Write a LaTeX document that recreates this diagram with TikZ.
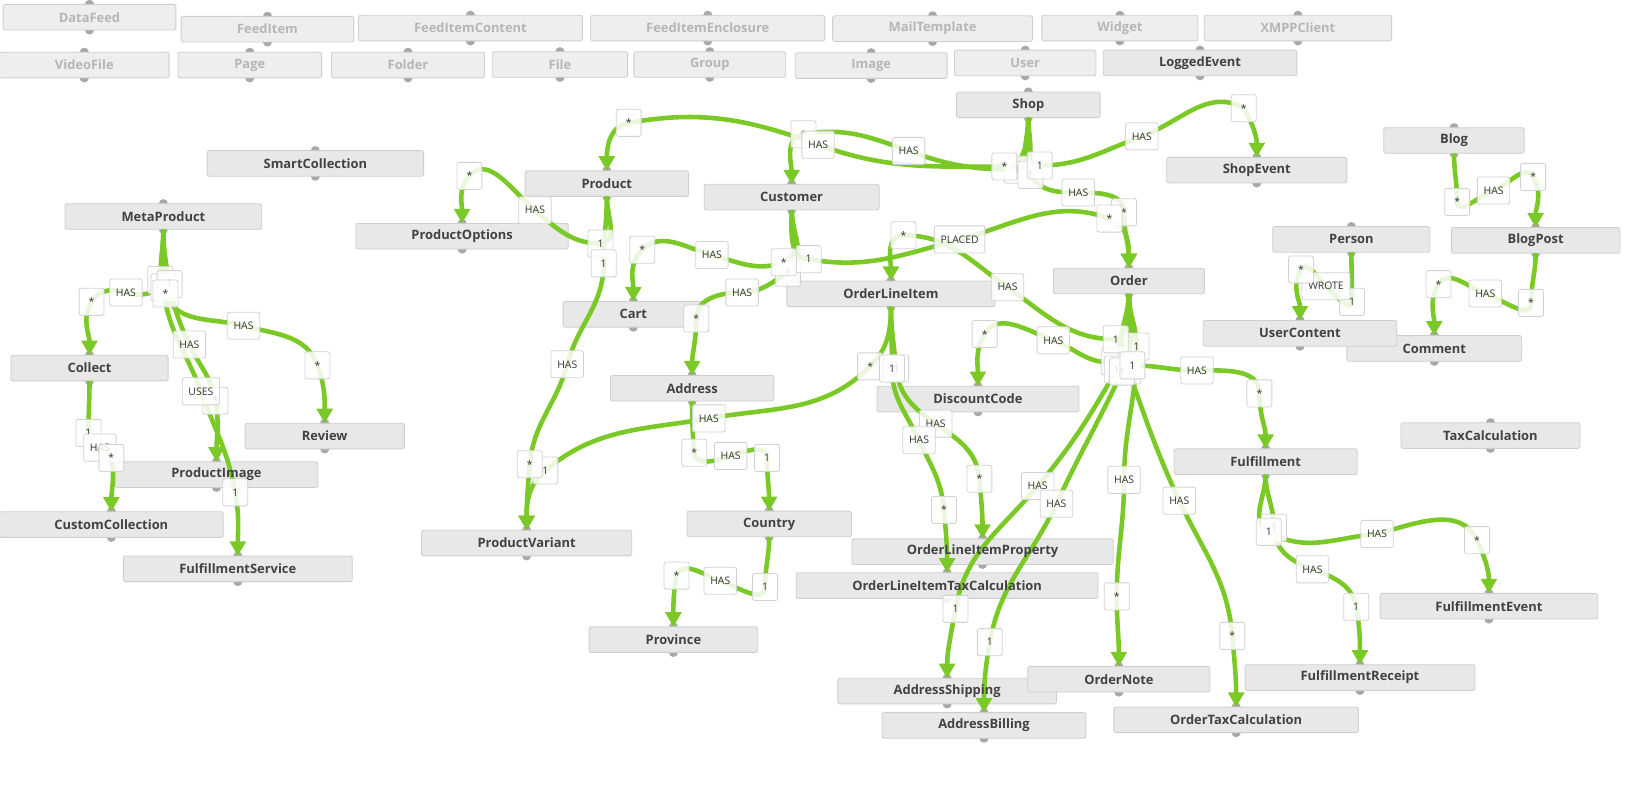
\documentclass[tikz,border=0pt]{standalone}
\usepackage{fontspec}
\setmainfont{Open Sans}
\usetikzlibrary{arrows.meta}
\pgfdeclarelayer{dots}
\pgfdeclarelayer{boxes}
\pgfdeclarelayer{front}
\pgfsetlayers{dots,boxes,main,front}
\definecolor{relgreen}{RGB}{122,201,38}
\definecolor{boxfill}{RGB}{232,232,232}
\definecolor{ghostfill}{RGB}{238,238,238}
\definecolor{boxline}{RGB}{206,206,206}
\definecolor{enttext}{RGB}{66,66,66}
\definecolor{ghosttext}{RGB}{182,182,182}
\definecolor{pingray}{RGB}{168,168,168}
\definecolor{tagline}{RGB}{210,210,210}
\definecolor{tagtext}{RGB}{51,51,51}

\begin{document}
\begin{tikzpicture}[x=0.5pt,y=0.5pt,
  ent/.style={minimum height=12.3pt,inner sep=0pt,outer sep=0pt,font=\bfseries\fontsize{6.2}{7}\selectfont,text=enttext},
  ghost/.style={ent,text=ghosttext},
  entbox/.style={draw=boxline,fill=boxfill,rounded corners=1pt},
  ghostbox/.style={entbox,fill=ghostfill},
  rel/.style={draw=relgreen,line width=2.2pt,-{Triangle[length=7pt,width=7.5pt]}},
  tag/.style={draw=tagline,fill=white,fill opacity=0.85,text opacity=1,rounded corners=1pt,minimum width=12pt,minimum height=13pt,inner xsep=3pt,inner ysep=1pt,font=\fontsize{5}{6}\selectfont,text=tagtext}]
\useasboundingbox (0,0) rectangle (1568,-770);

\foreach \n/\x/\y/\w/\t in %
{datafeed/86/16.5/166/DataFeed, feeditem/257/28/166/FeedItem, feedcontent/452/27/215/FeedItemContent,
 feedenclosure/680/27/225/FeedItemEnclosure, mailtemplate/896/27.5/192/MailTemplate, widget/1076/27/150/Widget,
 xmpp/1247/27/180/XMPPClient, videofile/81/62.5/163/VideoFile, page/240/62.5/138/Page, folder/392/62.5/147/Folder,
 file/538/62/130/File, group/682/62/146/Group, image/837/63/146/Image, user/985/60.5/136/User} {
   \begin{pgfonlayer}{front}
   \node[ghost,minimum width=\w*0.5pt] (\n) at (\x,-\y) {\t};
   \end{pgfonlayer}
   \begin{pgfonlayer}{boxes}
   \draw[ghostbox] (\n.south west) rectangle (\n.north east);
   \end{pgfonlayer}
   \begin{pgfonlayer}{dots}
   \fill[pingray] (\n.north) circle (2.2pt) (\n.south) circle (2.2pt);
   \end{pgfonlayer}
}
\foreach \n/\x/\y/\w/\t in %
{logged/1153/60.5/186/LoggedEvent, shop/988/100.7/138/Shop, smart/303/157/208/SmartCollection,
 meta/157/208/189/MetaProduct, product/583/176.4/157/Product, options/444/227/204/ProductOptions,
 customer/760.6/189.4/168/Customer, shopevent/1207.5/163.5/173/ShopEvent, blog/1397/135/135/Blog,
 blogpost/1475.4/231/162/BlogPost, person/1298.4/230/151/Person, comment/1378/334.8/168/Comment,
 usercontent/1249/320.3/186/UserContent, oli/856/282.3/200/OrderLineItem, order/1084.6/270/145/Order,
 cart/608.5/302/135/Cart, collect/86/353.6/151/Collect, address/665/373/157/Address,
 discount/939.6/383.4/194/DiscountCode, review/312/419/153/Review, taxcalc/1432/418.5/172/TaxCalculation,
 fulfil/1216/443.6/176/Fulfillment, pimage/208/456/195/ProductImage, custom/107/504/215/CustomCollection,
 country/739/503.4/158/Country, variant/506/521.8/202/ProductVariant, property/944/530/251/OrderLineItemProperty,
 fservice/228.5/546.5/220/FulfillmentService, olitax/910/562.6/290/OrderLineItemTaxCalculation,
 fevent/1430.5/582.4/209/FulfillmentEvent, province/647/614.5/162/Province, receipt/1306.6/651/221/FulfillmentReceipt,
 shipping/910/664/210/AddressShipping, ordernote/1075/652.6/175/OrderNote, billing/945.4/697/196/AddressBilling,
 ordertax/1187.7/691.6/235/OrderTaxCalculation} {
   \begin{pgfonlayer}{front}
   \node[ent,minimum width=\w*0.5pt] (\n) at (\x,-\y) {\t};
   \end{pgfonlayer}
   \begin{pgfonlayer}{boxes}
   \draw[entbox] (\n.south west) rectangle (\n.north east);
   \end{pgfonlayer}
   \begin{pgfonlayer}{dots}
   \fill[pingray] (\n.north) circle (2.2pt) (\n.south) circle (2.2pt);
   \end{pgfonlayer}
}

% shop
\draw[rel] (shop.south) to[out=-90,in=0] (965,-160) coordinate (e1a) to[out=180,in=-20] (786,-139) coordinate (e1b) to[out=160,in=10] (604,-118) coordinate (e1c) to[out=190,in=90] (product.north);
\draw[rel] (shop.south) to[out=-90,in=0] (977,-163) coordinate (e2a) to[out=180,in=-20] (873,-145) coordinate (e2b) to[out=160,in=10] (772,-129) coordinate (e2c) to[out=190,in=90] (customer.north);
\draw[rel] (shop.south) to[out=-90,in=180] (999,-159) coordinate (e3a) to[out=0,in=200] (1097,-131) coordinate (e3b) to[out=20,in=150] (1195,-104) coordinate (e3c) to[out=-60,in=90] (shopevent.north);
\draw[rel] (shop.south) to[out=-90,in=120] (990,-168) coordinate (e4a) to[out=-60,in=180] (1036,-185) coordinate (e4b) to[out=0,in=90] (1080,-204) coordinate (e4c) to[out=-90,in=90] (order.north);
% customer
\draw[rel] (customer.south) to[out=-90,in=180] (777,-249) coordinate (e5a) to[out=-10,in=195] (922,-230) coordinate (e5b) to[out=15,in=160] (1066,-210) coordinate (e5c) to[out=-20,in=90] (order.north);
\draw[rel] (customer.south) to[out=-90,in=20] (753,-252) coordinate (e6a) to[out=200,in=-15] (684,-245) coordinate (e6b) to[out=165,in=45] (617,-240) coordinate (e6c) to[out=225,in=90] (cart.north);
\draw[rel] (customer.south) to[out=-90,in=30] (757,-262) coordinate (e7a) to[out=210,in=0] (713,-281) coordinate (e7b) to[out=180,in=90] (669,-306) coordinate (e7c) to[out=-90,in=90] (address.north);
% order
\draw[rel] (order.south) to[out=-90,in=0] (1072,-326) coordinate (e8a) to[out=180,in=-35] (968,-276) coordinate (e8b) to[out=145,in=0] (868,-226) coordinate (e8c) to[out=180,in=90] (oli.north);
\draw[rel] (order.south) to[out=-90,in=10] (1070,-347) coordinate (e9a) to[out=190,in=-20] (1012,-327) coordinate (e9b) to[out=160,in=60] (946,-321) coordinate (e9c) to[out=-120,in=90] (discount.north);
\draw[rel] (order.south) to[out=-90,in=180] (1088,-351) coordinate (e10a) to[out=0,in=180] (1150,-356) coordinate (e10b) to[out=0,in=90] (1210,-378) coordinate (e10c) to[out=-90,in=90] (fulfil.north);
\draw[rel] (order.south) to[out=-90,in=90] (1092,-333) coordinate (e11a) to[out=-90,in=90] (1080,-461) coordinate (e11b) to[out=-90,in=90] (1073,-573) coordinate (e11c) to[out=-90,in=90] (ordernote.north);
\draw[rel] (order.south) to[out=-90,in=110] (1084,-356) coordinate (e12a) to[out=-70,in=115] (1133,-481) coordinate (e12b) to[out=-65,in=95] (1184,-611) coordinate (e12c) to[out=-85,in=90] (ordertax.north);
\draw[rel] (order.south) to[out=-90,in=60] (1073,-355) coordinate (e13a) to[out=240,in=50] (997,-467) coordinate (e13b) to[out=230,in=80] (918,-585) coordinate (e13c) to[out=-100,in=90] (shipping.north);
\draw[rel] (order.south) to[out=-90,in=65] (1078,-357) coordinate (e14a) to[out=245,in=65] (1015,-484) coordinate (e14b) to[out=245,in=80] (951,-617) coordinate (e14c) to[out=-100,in=90] (billing.north);
% order line item
\draw[rel] (oli.south) to[out=-90,in=45] (836,-352) coordinate (e15a) to[out=225,in=10] (681,-402) coordinate (e15b) to[out=190,in=40] (524,-452) coordinate (e15c) to[out=220,in=90] (variant.north);
\draw[rel] (oli.south) to[out=-90,in=95] (861,-354) coordinate (e16a) to[out=-85,in=145] (899,-407) coordinate (e16b) to[out=-35,in=95] (941,-460) coordinate (e16c) to[out=-85,in=90] (property.north);
\draw[rel] (oli.south) to[out=-90,in=90] (857,-354) coordinate (e17a) to[out=-90,in=115] (883,-423) coordinate (e17b) to[out=-65,in=95] (907,-490) coordinate (e17c) to[out=-85,in=90] (olitax.north);
% product
\draw[rel] (product.south) to[out=-90,in=90] (580,-253) coordinate (e18a) to[out=-90,in=75] (545,-350) coordinate (e18b) to[out=-105,in=85] (509,-446) coordinate (e18c) to[out=-95,in=90] (variant.north);
\draw[rel] (product.south) to[out=-90,in=0] (577,-234) coordinate (e19a) to[out=180,in=-40] (514,-202) coordinate (e19b) to[out=140,in=50] (451,-169) coordinate (e19c) to[out=-130,in=90] (options.north);
% address, country
\draw[rel] (address.south) to[out=-90,in=95] (667,-435) coordinate (e20a) to[out=-85,in=200] (702,-438) coordinate (e20b) to[out=20,in=90] (737,-440) coordinate (e20c) to[out=-90,in=90] (country.north);
\draw[rel] (country.south) to[out=-90,in=90] (735,-564) coordinate (e21a) to[out=-90,in=-20] (692,-558) coordinate (e21b) to[out=160,in=70] (650,-553) coordinate (e21c) to[out=-100,in=90] (province.north);
% person, blog
\draw[rel] (person.south) to[out=-90,in=90] (1299,-290) coordinate (e22a) to[out=-90,in=-45] (1274,-275) coordinate (e22b) to[out=135,in=60] (1250,-259) coordinate (e22c) to[out=-120,in=90] (usercontent.north);
\draw[rel] (blog.south) to[out=-90,in=90] (1400,-194) coordinate (e23a) to[out=-90,in=200] (1435,-183) coordinate (e23b) to[out=20,in=120] (1473,-170) coordinate (e23c) to[out=-60,in=90] (blogpost.north);
\draw[rel] (blogpost.south) to[out=-90,in=90] (1471,-291) coordinate (e24a) to[out=-90,in=-20] (1427,-282) coordinate (e24b) to[out=160,in=60] (1382,-273) coordinate (e24c) to[out=-120,in=90] (comment.north);
% fulfillment
\draw[rel] (fulfil.south) to[out=-90,in=150] (1219,-511) coordinate (e25a) to[out=-30,in=185] (1323,-513) coordinate (e25b) to[out=15,in=115] (1419,-519) coordinate (e25c) to[out=-65,in=90] (fevent.north);
\draw[rel] (fulfil.south) to[out=-90,in=90] (1224,-507) coordinate (e26a) to[out=-90,in=160] (1261,-547) coordinate (e26b) to[out=-20,in=100] (1303,-583) coordinate (e26c) to[out=-80,in=90] (receipt.north);
% meta product, collect
\draw[rel] (meta.south) to[out=-90,in=90] (154,-269) coordinate (e27a) to[out=-90,in=-20] (121,-281) coordinate (e27b) to[out=160,in=60] (88,-290) coordinate (e27c) to[out=-120,in=90] (collect.north);
\draw[rel] (meta.south) to[out=-90,in=110] (159,-282) coordinate (e28a) to[out=-70,in=165] (234,-313) coordinate (e28b) to[out=-15,in=110] (305,-351) coordinate (e28c) to[out=-70,in=90] (review.north);
\draw[rel] (meta.south) to[out=-90,in=100] (163,-273) coordinate (e29a) to[out=-80,in=115] (182,-331) coordinate (e29b) to[out=-65,in=100] (207,-385) coordinate (e29c) to[out=-80,in=90] (pimage.north);
\draw[rel] (meta.south) to[out=-90,in=95] (157,-276) coordinate (e30a) to[out=-85,in=110] (193,-376) coordinate (e30b) to[out=-70,in=100] (226,-473) coordinate (e30c) to[out=-80,in=90] (fservice.north);
\draw[rel] (collect.south) to[out=-90,in=90] (85,-416) coordinate (e31a) to[out=-90,in=200] (96,-430) coordinate (e31b) to[out=20,in=100] (107,-440) coordinate (e31c) to[out=-80,in=90] (custom.north);

\begin{pgfonlayer}{front}
\foreach \c/\t in %
{e2c/*, e2a/1, e4a/1, e7a/1, e9a/1, e12a/1, e13a/1, e14a/1, e11a/1, e16a/1, e26a/1, e27a/1, e30a/1, e29a/1, e29c/*, e31a/1,
 e1a/*, e1b/HAS, e1c/*, e2b/HAS, e3a/1, e3b/HAS, e3c/*, e4b/HAS, e4c/*, e5a/1, e5b/PLACED, e5c/*,
 e6a/*, e6b/HAS, e6c/*, e7b/HAS, e7c/*, e8a/1, e8b/HAS, e8c/*, e9b/HAS, e9c/*, e10a/1, e10b/HAS, e10c/*,
 e11b/HAS, e11c/*, e12b/HAS, e12c/*, e13b/HAS, e13c/1, e14b/HAS, e14c/1, e15a/*, e15b/HAS, e15c/1,
 e16b/HAS, e16c/*, e17a/1, e17b/HAS, e17c/*, e19a/1, e18a/1, e18b/HAS, e18c/*, e19b/HAS, e19c/*,
 e20a/*, e20b/HAS, e20c/1, e21a/1, e21b/HAS, e21c/*, e22a/1, e22b/WROTE, e22c/*, e23a/*, e23b/HAS, e23c/*,
 e24a/*, e24b/HAS, e24c/*, e25a/1, e25b/HAS, e25c/*, e26b/HAS, e26c/1, e27b/HAS, e27c/*,
 e28a/*, e28b/HAS, e28c/*, e29b/HAS, e30b/USES, e30c/1, e31b/HAS, e31c/*} {
   \node[tag] (l\c) at (\c) {\t};
}
\end{pgfonlayer}
\end{tikzpicture}
\end{document}
